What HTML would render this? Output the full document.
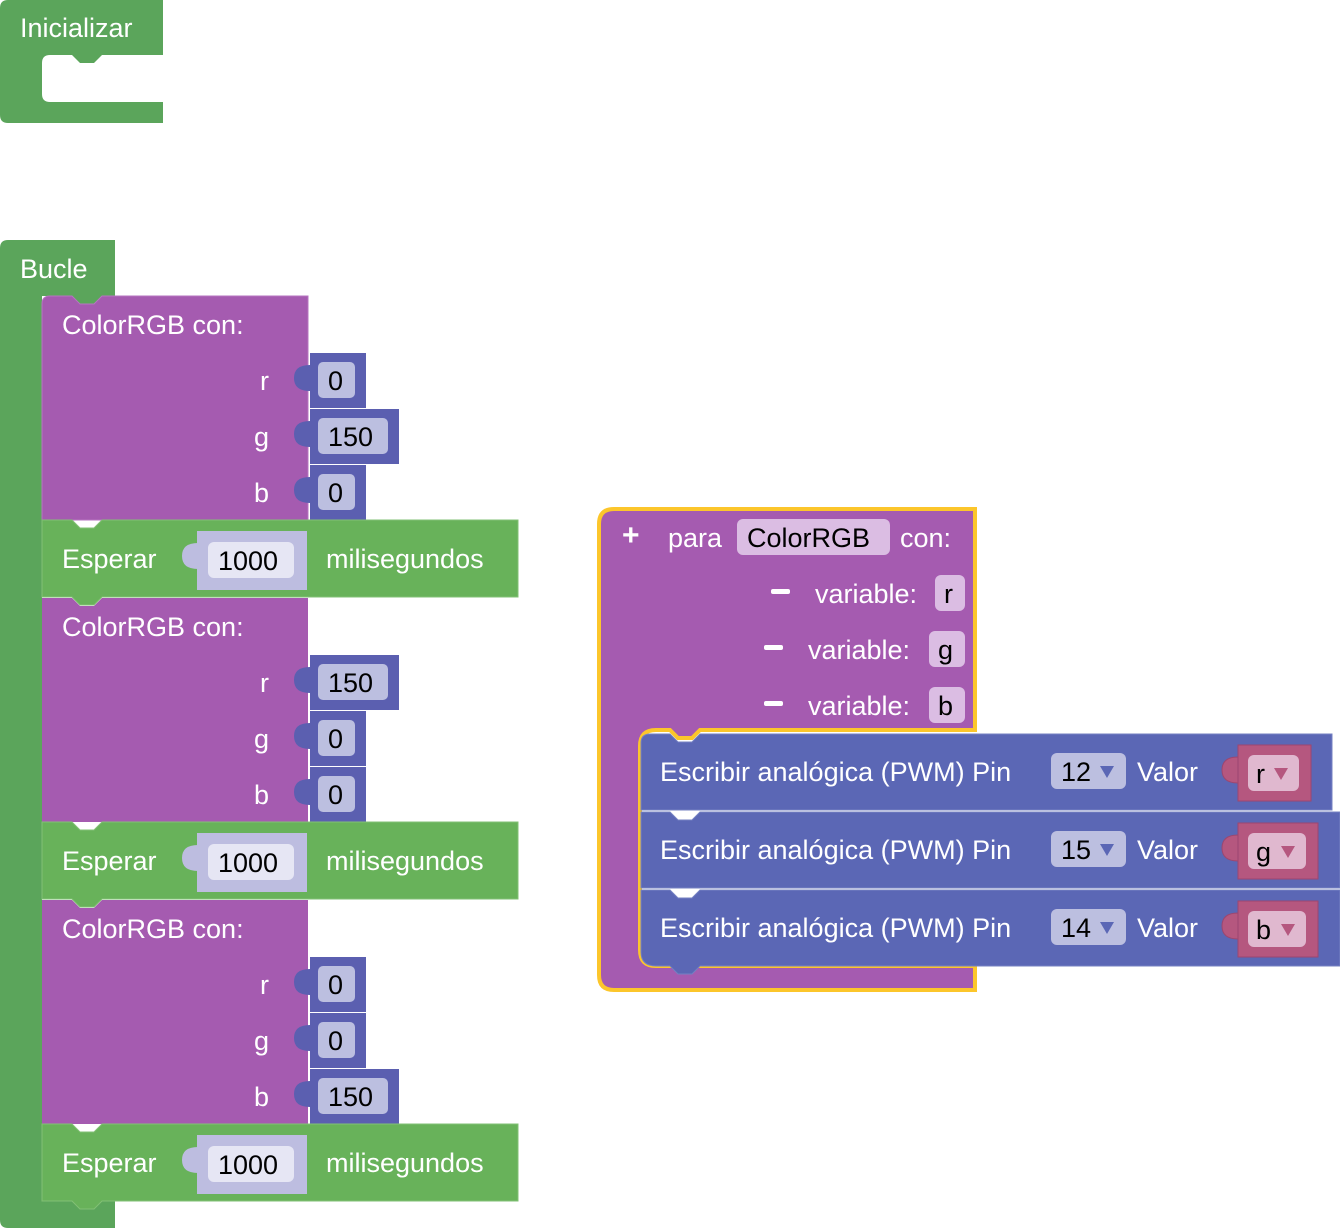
<!DOCTYPE html>
<html><head><meta charset="utf-8"><style>
html,body{margin:0;padding:0;background:#fff;}
svg{display:block;}
text{font-family:"Liberation Sans",sans-serif;font-size:27px;}
.w{fill:#fff;}.k{fill:#000;}
</style></head><body>
<svg width="1340" height="1228" viewBox="0 0 1340 1228" xmlns="http://www.w3.org/2000/svg">
<!-- Inicializar -->
<path d="M8,0 H163 V55 H102 L94,63 H80 L72,55 H50 Q42,55 42,63 V94 Q42,102 50,102 H163 V123 H8 Q0,123 0,115 V8 Q0,0 8,0Z" fill="#5ba55b"/>
<text x="20" y="37" class="w">Inicializar</text>

<!-- Bucle -->
<path d="M8,240 H115 V296 H102 L94,304 H80 L72,296 H42 V1200 H115 V1228 H8 Q0,1228 0,1220 V248 Q0,240 8,240Z" fill="#5ba55b"/>
<text x="20" y="278" class="w">Bucle</text>

<!-- ColorRGB blocks -->
<g id="c1">
<path d="M50,296 H72 L80,304 H94 L102,296 H308 V520 H42 V304 Q42,296 50,296Z" fill="#a55bb0" stroke="#b675c0" stroke-width="1"/>
</g>
<text x="62" y="334" class="w">ColorRGB   con:</text>
<text x="260" y="390" class="w">r</text><text x="254" y="446" class="w">g</text><text x="254" y="502" class="w">b</text>
<path d="M42,598 H72 L80,606 H94 L102,598 H308 V822 H42Z" fill="#a55bb0"/>
<text x="62" y="636" class="w">ColorRGB   con:</text>
<text x="260" y="692" class="w">r</text><text x="254" y="748" class="w">g</text><text x="254" y="804" class="w">b</text>
<path d="M42,900 H72 L80,908 H94 L102,900 H308 V1124 H42Z" fill="#a55bb0"/>
<text x="62" y="938" class="w">ColorRGB   con:</text>
<text x="260" y="994" class="w">r</text><text x="254" y="1050" class="w">g</text><text x="254" y="1106" class="w">b</text>

<!-- number values -->
<g fill="#5b5fb0">
<rect x="310" y="353" width="56" height="55"/><rect x="310" y="409" width="89" height="55"/><rect x="310" y="465" width="56" height="55"/>
<rect x="310" y="655" width="89" height="55"/><rect x="310" y="711" width="56" height="55"/><rect x="310" y="767" width="56" height="55"/>
<rect x="310" y="957" width="56" height="55"/><rect x="310" y="1013" width="56" height="55"/><rect x="310" y="1069" width="89" height="55"/>
<path d="M310,365 Q294,365 294,378 Q294,391 310,391Z"/><path d="M310,421 Q294,421 294,434 Q294,447 310,447Z"/><path d="M310,477 Q294,477 294,490 Q294,503 310,503Z"/>
<path d="M310,667 Q294,667 294,680 Q294,693 310,693Z"/><path d="M310,723 Q294,723 294,736 Q294,749 310,749Z"/><path d="M310,779 Q294,779 294,792 Q294,805 310,805Z"/>
<path d="M310,969 Q294,969 294,982 Q294,995 310,995Z"/><path d="M310,1025 Q294,1025 294,1038 Q294,1051 310,1051Z"/><path d="M310,1081 Q294,1081 294,1094 Q294,1107 310,1107Z"/>
</g>
<g fill="#bcbfe0">
<rect x="318" y="362" width="37" height="36" rx="5"/><rect x="318" y="418" width="70" height="36" rx="5"/><rect x="318" y="474" width="37" height="36" rx="5"/>
<rect x="318" y="664" width="70" height="36" rx="5"/><rect x="318" y="720" width="37" height="36" rx="5"/><rect x="318" y="776" width="37" height="36" rx="5"/>
<rect x="318" y="966" width="37" height="36" rx="5"/><rect x="318" y="1022" width="37" height="36" rx="5"/><rect x="318" y="1078" width="70" height="36" rx="5"/>
</g>
<g class="k">
<text x="328" y="390">0</text><text x="328" y="446">150</text><text x="328" y="502">0</text>
<text x="328" y="692">150</text><text x="328" y="748">0</text><text x="328" y="804">0</text>
<text x="328" y="994">0</text><text x="328" y="1050">0</text><text x="328" y="1106">150</text>
</g>

<!-- Esperar blocks -->
<g>
<path d="M42,520 H72 L80,528 H94 L102,520 H518 V597 H102 L94,605 H80 L72,597 H42Z" fill="#68b25a" stroke="#82c075"/>
<path d="M42,822 H72 L80,830 H94 L102,822 H518 V899 H102 L94,907 H80 L72,899 H42Z" fill="#68b25a" stroke="#82c075"/>
<path d="M42,1124 H72 L80,1132 H94 L102,1124 H518 V1201 H102 L94,1209 H80 L72,1201 H42Z" fill="#68b25a" stroke="#82c075"/>
</g>
<g fill="#bdbde0">
<rect x="197" y="531" width="110" height="59"/><path d="M198,543 Q182,543 182,556 Q182,569 198,569Z"/>
<rect x="197" y="833" width="110" height="59"/><path d="M198,845 Q182,845 182,858 Q182,871 198,871Z"/>
<rect x="197" y="1135" width="110" height="59"/><path d="M198,1147 Q182,1147 182,1160 Q182,1173 198,1173Z"/>
</g>
<g fill="#e6e6f4">
<rect x="208" y="542" width="86" height="36" rx="6"/><rect x="208" y="844" width="86" height="36" rx="6"/><rect x="208" y="1146" width="86" height="36" rx="6"/>
</g>
<text x="62" y="568" class="w">Esperar</text><text x="218" y="570" class="k">1000</text><text x="326" y="568" class="w">milisegundos</text>
<text x="62" y="870" class="w">Esperar</text><text x="218" y="872" class="k">1000</text><text x="326" y="870" class="w">milisegundos</text>
<text x="62" y="1172" class="w">Esperar</text><text x="218" y="1174" class="k">1000</text><text x="326" y="1172" class="w">milisegundos</text>

<!-- Function definition -->
<path d="M614,509 H975 V730 H700 L692,738 H678 L670,730 H656 Q640,730 640,746 V950 Q640,966 656,966 H975 V990 H614 Q599,990 599,975 V524 Q599,509 614,509Z" fill="#a55bb0" stroke="#fcc62b" stroke-width="4"/>
<text x="622" y="545" class="w" style="font-size:30px;font-weight:bold">+</text>
<text x="668" y="547" class="w">para</text>
<rect x="737" y="519" width="153" height="36" rx="6" fill="#dbbde3"/>
<text x="747" y="547" class="k">ColorRGB</text>
<text x="900" y="547" class="w">con:</text>
<rect x="771" y="589" width="19" height="5" rx="2" fill="#fff"/>
<text x="815" y="603" class="w">variable:</text>
<rect x="935" y="575" width="30" height="36" rx="6" fill="#dbbde3"/><text x="944" y="603" class="k">r</text>
<rect x="764" y="645" width="19" height="5" rx="2" fill="#fff"/>
<text x="808" y="659" class="w">variable:</text>
<rect x="929" y="631" width="36" height="36" rx="6" fill="#dbbde3"/><text x="938" y="659" class="k">g</text>
<rect x="764" y="701" width="19" height="5" rx="2" fill="#fff"/>
<text x="808" y="715" class="w">variable:</text>
<rect x="929" y="687" width="36" height="36" rx="6" fill="#dbbde3"/><text x="938" y="715" class="k">b</text>

<!-- Escribir blocks -->
<path d="M650,734 H670 L678,742 H692 L700,734 H1332 V810 H641 V743 Q641,734 650,734Z" fill="#5b67b5" stroke="#7480c2"/>
<path d="M641,812 H670 L678,820 H692 L700,812 H1340 V888 H641Z" fill="#5b67b5" stroke="#7480c2"/>
<path d="M641,890 H670 L678,898 H692 L700,890 H1340 V966 H700 L692,974 H678 L670,966 H656 Q641,966 641,952Z" fill="#5b67b5" stroke="#7480c2"/>
<g fill="#bcbfe0">
<rect x="1051" y="753" width="75" height="36" rx="6"/><rect x="1051" y="831" width="75" height="36" rx="6"/><rect x="1051" y="909" width="75" height="36" rx="6"/>
</g>
<g fill="#5b67b5"><path d="M1100,766 h14 l-7,12z"/><path d="M1100,844 h14 l-7,12z"/><path d="M1100,922 h14 l-7,12z"/></g>
<g fill="#b5577f" stroke="#9c4670">
<rect x="1238" y="745" width="73" height="56"/><path d="M1238,757 Q1222,757 1222,770 Q1222,783 1238,783Z"/>
<rect x="1238" y="823" width="80" height="56"/><path d="M1238,835 Q1222,835 1222,848 Q1222,861 1238,861Z"/>
<rect x="1238" y="901" width="80" height="56"/><path d="M1238,913 Q1222,913 1222,926 Q1222,939 1238,939Z"/>
</g>
<g fill="#e0b8cf">
<rect x="1248" y="755" width="51" height="36" rx="6"/><rect x="1248" y="833" width="58" height="36" rx="6"/><rect x="1248" y="911" width="58" height="36" rx="6"/>
</g>
<g fill="#b5577f"><path d="M1274,768 h14 l-7,12z"/><path d="M1281,846 h14 l-7,12z"/><path d="M1281,924 h14 l-7,12z"/></g>
<text x="1256" y="783" class="k">r</text><text x="1256" y="861" class="k">g</text><text x="1256" y="939" class="k">b</text>
<text x="660" y="781" class="w">Escribir analógica (PWM) Pin</text><text x="1061" y="781" class="k">12</text><text x="1137" y="781" class="w">Valor</text>
<text x="660" y="859" class="w">Escribir analógica (PWM) Pin</text><text x="1061" y="859" class="k">15</text><text x="1137" y="859" class="w">Valor</text>
<text x="660" y="937" class="w">Escribir analógica (PWM) Pin</text><text x="1061" y="937" class="k">14</text><text x="1137" y="937" class="w">Valor</text>
</svg>
</body></html>
